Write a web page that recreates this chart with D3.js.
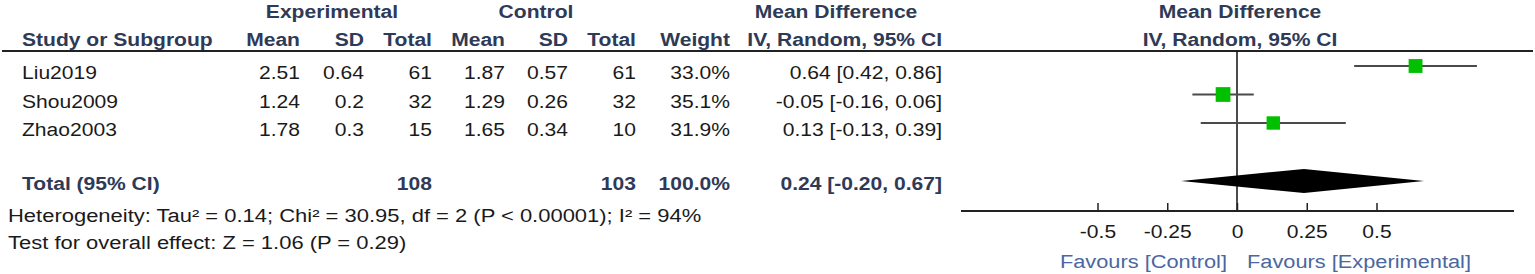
<!DOCTYPE html>
<html>
<head>
<meta charset="utf-8">
<script src="https://cdn.jsdelivr.net/npm/d3@7"></script>
<style>
  body { margin: 0; background: #fff; }
  svg { display: block; font-family: "Liberation Sans", Arial, sans-serif; }
  .hdr { font-weight: bold; fill: #2f3a56; }
  .body { fill: #1a1a1a; }
  .tot { font-weight: bold; fill: #2f3a56; }
  .fav { fill: #4a67a0; }
</style>
</head>
<body>
<svg id="chart"></svg>
<script>
// study data
const studies = ['Liu2019', 'Shou2009', 'Zhao2003'];
const expMean = [2.51, 1.24, 1.78];
const expSD = [0.64, 0.2, 0.3];
const expTotal = [61, 32, 15];
const ctlMean = [1.87, 1.29, 1.65];
const ctlSD = [0.57, 0.26, 0.34];
const ctlTotal = [61, 32, 10];
const weights = [33.0, 35.1, 31.9];
const md = [0.64, -0.05, 0.13];
const mdLow = [0.42, -0.16, -0.13];
const mdHigh = [0.86, 0.06, 0.39];

// pooled
const totalLabel = 'Total (95% CI)';
const totalExp = 108, totalCtl = 103, totalWeight = 100.0;
const pooled = [0.24, -0.20, 0.67];
const hetText = 'Heterogeneity: Tau\u00b2 = 0.14; Chi\u00b2 = 30.95, df = 2 (P < 0.00001); I\u00b2 = 94%';
const testText = 'Test for overall effect: Z = 1.06 (P = 0.29)';

const tickVals = [-0.5, -0.25, 0, 0.25, 0.5];
const favLeft = 'Favours [Control]', favRight = 'Favours [Experimental]';

const width = 1535, height = 274;
const FS = 18;
const SX = 1.17; // text looks horizontally stretched in the original

const svg = d3.select('#chart').attr('width', width).attr('height', height);

function stretch(sel, k) {
  sel.each(function() {
    const len = this.getComputedTextLength();
    d3.select(this).attr('textLength', len * (k || SX)).attr('lengthAdjust', 'spacingAndGlyphs');
  });
  return sel;
}

function txt(x, y, s, cls, anchor, k) {
  const t = svg.append('text')
    .attr('class', cls)
    .attr('x', x)
    .attr('y', y + FS * 0.36)
    .attr('text-anchor', anchor)
    .style('font-size', FS + 'px')
    .text(s);
  stretch(t, k);
  return t;
}

// table columns (right edges)
const cols = {
  name: 22, eMean: 300, eSD: 364, eTot: 432, cMean: 505, cSD: 568, cTot: 636, w: 730, ci: 942
};

const rowY = d3.scalePoint().domain(studies).range([73, 130]);
const fmtW = d => d.toFixed(1) + '%';
const fmtCI = (m, l, h) => `${m.toFixed(2)} [${l.toFixed(2)}, ${h.toFixed(2)}]`;

// headers
txt(332, 12, 'Experimental', 'hdr', 'middle');
txt(536, 12, 'Control', 'hdr', 'middle');
txt(836, 12, 'Mean Difference', 'hdr', 'middle');
txt(cols.name, 40, 'Study or Subgroup', 'hdr', 'start');
[['eMean', 'Mean'], ['eSD', 'SD'], ['eTot', 'Total'], ['cMean', 'Mean'], ['cSD', 'SD'], ['cTot', 'Total'],
 ['w', 'Weight'], ['ci', 'IV, Random, 95% CI']].forEach(([c, s]) => txt(cols[c], 40, s, 'hdr', 'end'));

// x scale for forest plot
const x = d3.scaleLinear().domain([-1, 1]).range([958, 1516]);
const zero = x(0);
txt(zero + 3, 12, 'Mean Difference', 'hdr', 'middle');
txt(zero + 3, 40, 'IV, Random, 95% CI', 'hdr', 'middle');

// header rule
svg.append('line').attr('x1', 2).attr('x2', 1533).attr('y1', 51).attr('y2', 51)
  .attr('stroke', '#222').attr('stroke-width', 2);

// study rows
studies.forEach((s, i) => {
  const y = rowY(s);
  txt(cols.name, y, s, 'body', 'start');
  txt(cols.eMean, y, String(expMean[i]), 'body', 'end');
  txt(cols.eSD, y, String(expSD[i]), 'body', 'end');
  txt(cols.eTot, y, String(expTotal[i]), 'body', 'end');
  txt(cols.cMean, y, String(ctlMean[i]), 'body', 'end');
  txt(cols.cSD, y, String(ctlSD[i]), 'body', 'end');
  txt(cols.cTot, y, String(ctlTotal[i]), 'body', 'end');
  txt(cols.w, y, fmtW(weights[i]), 'body', 'end');
  txt(cols.ci, y, fmtCI(md[i], mdLow[i], mdHigh[i]), 'body', 'end');
});

// total rows
const totY = 184;
txt(cols.name, totY, totalLabel, 'tot', 'start');
txt(cols.eTot, totY, String(totalExp), 'tot', 'end');
txt(cols.cTot, totY, String(totalCtl), 'tot', 'end');
txt(cols.w, totY, fmtW(totalWeight), 'tot', 'end');
txt(cols.ci, totY, fmtCI(pooled[0], pooled[1], pooled[2]), 'tot', 'end');
txt(8, 216, hetText, 'body', 'start', 1.22);
txt(8, 243, testText, 'body', 'start', 1.22);

// forest plot
const axisY = 211;
svg.append('line').attr('x1', zero).attr('x2', zero).attr('y1', 51).attr('y2', axisY)
  .attr('stroke', '#111').attr('stroke-width', 1.5);

const side = d3.scaleLinear().domain([0, 100]).range([0, 42]);
const markY = s => rowY(s) - 7;

svg.append('g').selectAll('line')
  .data(studies)
  .join('line')
  .attr('x1', (d, i) => x(mdLow[i]))
  .attr('x2', (d, i) => x(mdHigh[i]))
  .attr('y1', d => markY(d))
  .attr('y2', d => markY(d))
  .attr('stroke', '#4a4a4a')
  .attr('stroke-width', 2);

svg.append('g').selectAll('rect')
  .data(studies)
  .join('rect')
  .attr('x', (d, i) => x(md[i]) - side(weights[i]) / 2)
  .attr('y', (d, i) => markY(d) - side(weights[i]) / 2)
  .attr('width', (d, i) => side(weights[i]))
  .attr('height', (d, i) => side(weights[i]))
  .attr('fill', '#00c000');

// pooled diamond
const dy = 181, dh = 12;
svg.append('path')
  .attr('d', `M${x(pooled[1])},${dy}L${x(pooled[0])},${dy - dh}L${x(pooled[2])},${dy}L${x(pooled[0])},${dy + dh}Z`)
  .attr('fill', '#000');

// axis
const axis = d3.axisBottom(x)
  .tickValues(tickVals)
  .tickFormat(d => String(d))
  .tickSizeInner(-8)
  .tickSizeOuter(0)
  .tickPadding(14);

const gAxis = svg.append('g').attr('transform', `translate(0,${axisY})`).call(axis);
gAxis.select('.domain').attr('stroke', '#222').attr('stroke-width', 2)
  .attr('d', `M${x(-1) + 3},0H${x(1) - 2}`);
gAxis.selectAll('.tick line').attr('stroke', '#222').attr('stroke-width', 1.5);
gAxis.selectAll('.tick text')
  .style('font-size', FS + 'px')
  .style('font-family', '"Liberation Sans", Arial, sans-serif')
  .attr('fill', '#1a1a1a')
  .call(stretch);

txt(zero - 10, 262, favLeft, 'fav', 'end', 1.21);
txt(zero + 10, 262, favRight, 'fav', 'start', 1.21);
</script>
</body>
</html>
